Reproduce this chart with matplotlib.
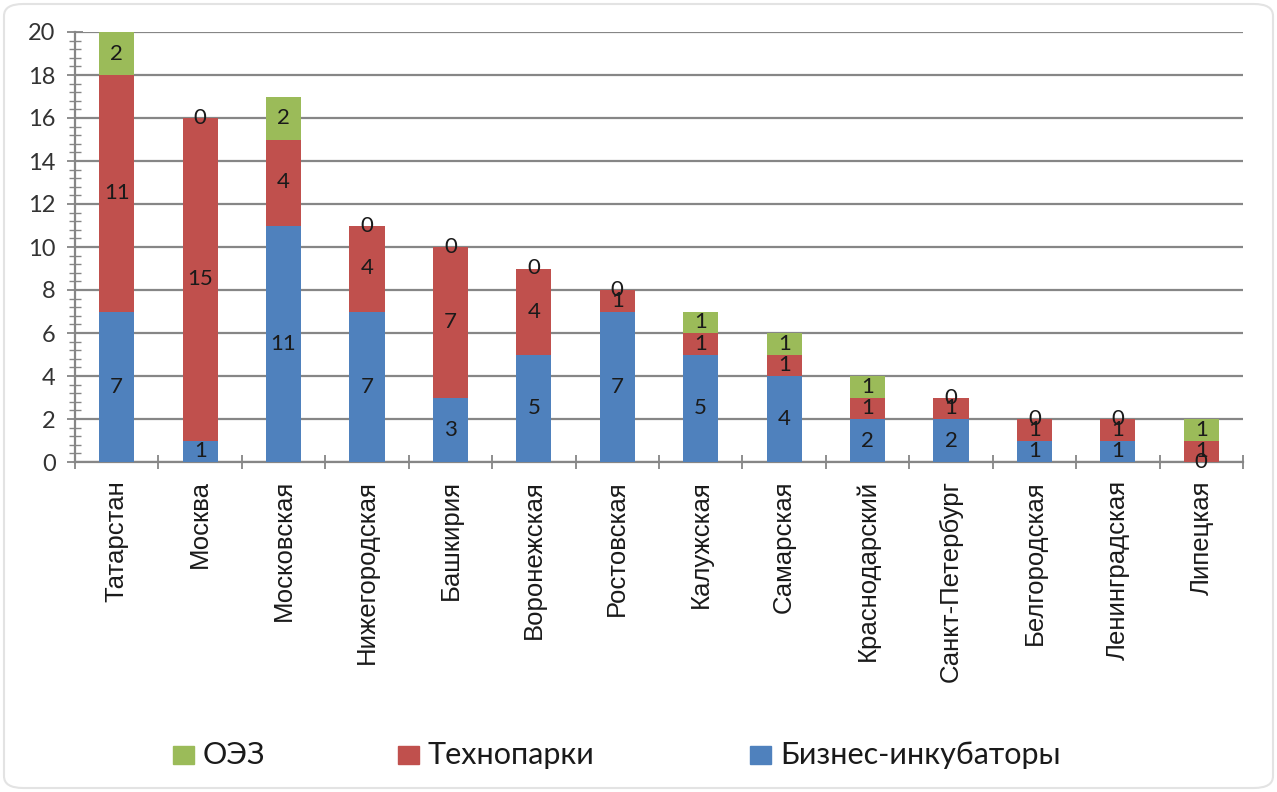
import matplotlib
matplotlib.use("Agg")
import matplotlib.pyplot as plt
import numpy as np
from matplotlib.ticker import MultipleLocator, FixedLocator
from matplotlib.patches import Rectangle, FancyBboxPatch

categories = ["Татарстан", "Москва", "Московская", "Нижегородская", "Башкирия",
              "Воронежская", "Ростовская", "Калужская", "Самарская", "Краснодарский",
              "Санкт-Петербург", "Белгородская", "Ленинградская", "Липецкая"]
incubators = [7, 1, 11, 7, 3, 5, 7, 5, 4, 2, 2, 1, 1, 0]
technoparks = [11, 15, 4, 4, 7, 4, 1, 1, 1, 1, 1, 1, 1, 1]
sez = [2, 0, 2, 0, 0, 0, 0, 1, 1, 1, 0, 0, 0, 1]
series_names = ["Бизнес-инкубаторы", "Технопарки", "ОЭЗ"]
colors = ["#4F81BD", "#C0504D", "#9BBB59"]
y_ticks = [0, 2, 4, 6, 8, 10, 12, 14, 16, 18, 20]

plt.rcParams['font.family'] = ['Lato', 'DejaVu Sans']

W, H = 1277, 792
fig = plt.figure(figsize=(W/100, H/100), dpi=100)
fig.add_artist(FancyBboxPatch((4/W, 4/H), 1-8/W, 1-8/H,
                              boxstyle="round,pad=0,rounding_size=0.015",
                              transform=fig.transFigure, facecolor="white",
                              edgecolor="#e3e3e3", linewidth=1.5, zorder=0))
ax = fig.add_axes([75/W, 1-462/H, (1243-75)/W, (462-32)/H])
ax.patch.set_alpha(0)

x = np.arange(len(categories))
series = [incubators, technoparks, sez]
bottom = np.zeros(len(categories))
width = 0.42
grid_c = "#868686"
for vals, c in zip(series, colors):
    vals = np.array(vals, dtype=float)
    ax.bar(x, vals, width, bottom=bottom, color=c, zorder=3)
    for xi, b, v in zip(x, bottom, vals):
        ax.text(xi, b + v/2, f"{int(v)}", ha="center", va="center",
                fontsize=16, color="#1a1a1a", zorder=5)
    bottom = bottom + vals

ax.set_xlim(-0.5, len(categories) - 0.5)
ax.set_ylim(0, 20)
ax.set_yticks(y_ticks)
ax.yaxis.set_minor_locator(MultipleLocator(0.4))
ax.yaxis.grid(True, which="major", color=grid_c, linewidth=1.6, zorder=1)
ax.set_xticks(x)
ax.set_xticklabels(categories, rotation=90, fontsize=18.5, color="#1a1a1a",
                   family=["Liberation Sans", "DejaVu Sans"])
ax.xaxis.set_minor_locator(FixedLocator(np.arange(-0.5, len(categories), 1.0)))
ax.tick_params(axis="x", which="major", length=0, pad=13)
ax.tick_params(axis="x", which="minor", direction="inout", length=10, width=1.3, color=grid_c)
ax.tick_params(axis="y", which="major", direction="inout", length=12, width=1.3,
               color=grid_c, labelsize=17, labelcolor="#333333", pad=8)
ax.tick_params(axis="y", which="minor", direction="inout", length=8, width=1.0, color=grid_c)
for s in ["top", "right"]:
    ax.spines[s].set_visible(False)
for s in ["left", "bottom"]:
    ax.spines[s].set_color(grid_c)
    ax.spines[s].set_linewidth(1.6)
ax.set_axisbelow(True)

# legend (order: ОЭЗ, Технопарки, Бизнес-инкубаторы), placed like the reference
legend_marker_x = [173, 398, 750]
legend_y = 755
for idx, mx in zip([2, 1, 0], legend_marker_x):
    fig.add_artist(Rectangle((mx/W, (H-legend_y-9)/H), 21/W, 18/H,
                             transform=fig.transFigure, color=colors[idx]))
    fig.text((mx+30)/W, (H-legend_y)/H, series_names[idx], ha="left", va="center",
             fontsize=22, color="#1a1a1a")

fig.savefig("out.png", dpi=100, facecolor="white")
